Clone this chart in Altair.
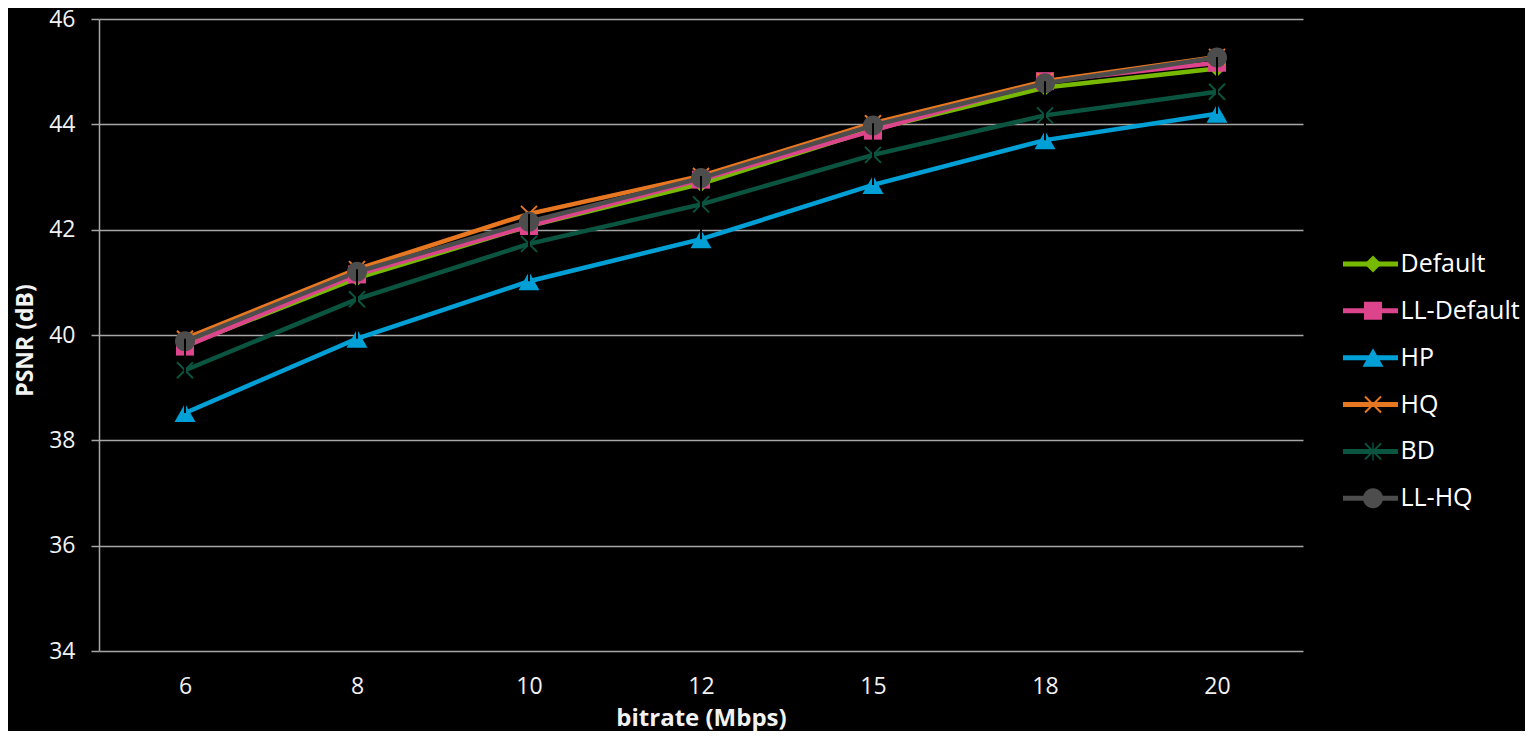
import altair as alt
import pandas as pd

bitrate = [6, 8, 10, 12, 15, 18, 20]
series = ["Default", "LL-Default", "HP", "HQ", "BD", "LL-HQ"]
psnr_default = [39.80, 41.08, 42.07, 42.87, 43.90, 44.70, 45.06]
psnr_ll_default = [39.78, 41.15, 42.07, 42.95, 43.88, 44.82, 45.17]
psnr_hp = [38.52, 39.93, 41.02, 41.82, 42.85, 43.70, 44.20]
psnr_hq = [39.93, 41.25, 42.30, 43.02, 44.02, 44.82, 45.28]
psnr_bd = [39.33, 40.68, 41.73, 42.48, 43.42, 44.17, 44.62]
psnr_ll_hq = [39.88, 41.20, 42.15, 42.98, 43.98, 44.78, 45.27]
colors = ["#76B900", "#DC448C", "#00A0D6", "#E87722", "#0B5440", "#4D4D4D"]

values = [psnr_default, psnr_ll_default, psnr_hp, psnr_hq, psnr_bd, psnr_ll_hq]
rows = []
for s, vals in zip(series, values):
    for b, v in zip(bitrate, vals):
        rows.append({"bitrate": b, "series": s, "marker": s, "psnr": v})
df = pd.DataFrame(rows)

# marker shapes (unit box, scaled by sqrt(size)/2)
circle = "M-1,0A1,1,0,1,1,1,0A1,1,0,1,1,-1,0Z"
square = "M-0.9,-0.9H0.9V0.9H-0.9Z"
diamond = "M-0.85,0L0,-0.85L0.85,0L0,0.85Z"
triangle = "M0,-0.95L1.05,0.9L-1.05,0.9Z"
xmark = ("M-0.73,-0.87L0.87,0.73L0.73,0.87L-0.87,-0.73Z"
         "M0.73,-0.87L0.87,-0.73L-0.73,0.87L-0.87,0.73Z")
asterisk = xmark + "M-0.07,-0.9H0.07V0.9H-0.07Z"
shapes = [diamond, square, triangle, xmark, asterisk, circle]

FONT = "Open Sans"

common_legend = dict(
    title=None,
    orient="none",
    legendX=1241.5,
    legendY=231.5,
    direction="vertical",
    padding=0,
    clipHeight=27,
    rowPadding=19.85,
    labelFontSize=25,
    labelFont=FONT,
)

line_legend = alt.Legend(
    symbolType="stroke",
    symbolSize=3025,
    symbolStrokeWidth=5,
    symbolOffset=0,
    labelOffset=0,
    labelColor="#FFFFFF",
    **common_legend,
)

marker_legend = alt.Legend(
    symbolSize=400,
    symbolStrokeWidth=0,
    symbolOpacity=1,
    symbolOffset=20,
    labelOffset=40,
    labelExpr="''",
    labelColor="#FFFFFF",
    **common_legend,
)

x_enc = alt.X(
    "bitrate:O",
    scale=alt.Scale(type="point", padding=0.5),
    axis=alt.Axis(
        title="bitrate (Mbps)",
        labelAngle=0,
        domain=False,
        ticks=False,
        tickSize=0,
        grid=False,
        labelBaseline="middle",
        labelPadding=35,
        titleY=67,
        titleBaseline="middle",
        titleFontSize=24,
    ),
)
y_enc = alt.Y(
    "psnr:Q",
    scale=alt.Scale(domain=[34, 46], nice=False, zero=False),
    axis=alt.Axis(
        title="PSNR (dB)",
        values=[34, 36, 38, 40, 42, 44, 46],
        grid=True,
        domain=True,
        ticks=True,
        tickSize=8,
        labelPadding=16,
        titleX=-74,
        titleY=321,
        titleBaseline="middle",
        titleFontSize=23,
    ),
)

base = alt.Chart(df)

lines = base.mark_line(strokeWidth=4.5).encode(
    x=x_enc,
    y=y_enc,
    color=alt.Color("series:N", scale=alt.Scale(range=colors), sort=series, legend=line_legend),
    order=alt.Order("bitrate:Q"),
)

points = base.mark_point(filled=True, opacity=1, size=400, strokeWidth=0).encode(
    x=x_enc,
    y=y_enc,
    fill=alt.Fill("marker:N", scale=alt.Scale(domain=series, range=colors), legend=marker_legend),
    shape=alt.Shape("marker:N", scale=alt.Scale(domain=series, range=shapes), legend=marker_legend),
)

hilo = base.mark_rule(color="#000000", strokeWidth=2).encode(
    x=x_enc,
    y=alt.Y("min(psnr):Q"),
    y2=alt.Y2("max(psnr)"),
)

chart = (
    alt.layer(lines, points, hilo)
    .properties(
        width=1204,
        height=632,
        background="#000000",
        padding={"left": 91, "top": 11, "right": 222, "bottom": 80},
        autosize=alt.AutoSizeParams(type="none"),
    )
    .configure_view(stroke=None)
    .configure_axis(
        labelFont=FONT,
        titleFont=FONT,
        labelFontSize=23,
        titleFontWeight="bold",
        labelColor="#F2F2F2",
        titleColor="#F2F2F2",
        gridColor="#A6A6A6",
        gridWidth=1.5,
        domainColor="#A6A6A6",
        domainWidth=1.5,
        tickColor="#A6A6A6",
        tickWidth=1.5,
    )
)

chart.save("out.html", embed_options={"renderer": "svg", "actions": False})
